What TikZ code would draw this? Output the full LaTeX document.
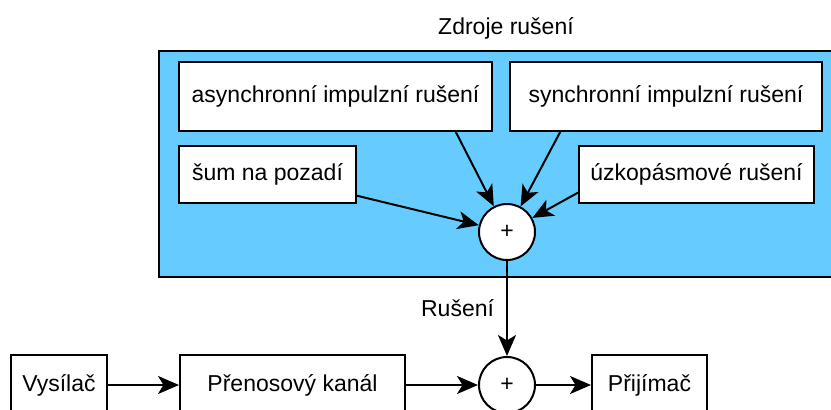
\documentclass[tikz,border=0pt]{standalone}
\usepackage{fontspec}
\setmainfont{Liberation Sans}
\usetikzlibrary{arrows.meta,calc}
\definecolor{zone}{HTML}{66CCFF}
\begin{document}
\begin{tikzpicture}[x=1pt,y=-1pt,
  every node/.style={font=\fontsize{23}{27}\selectfont},
  box/.style={draw=black,fill=white,line width=2pt,inner sep=0pt},
  sum/.style={draw=black,fill=white,circle,line width=2pt,minimum size=56pt,inner sep=0pt},
  arr/.style={line width=2pt,-{Stealth[length=21pt,width=18pt,inset=5.5pt]}},
  lbl/.style={inner sep=0pt}]
\path[use as bounding box,clip] (0,0) rectangle (831,410);
\fill[white] (0,0) rectangle (831,410);
% zone
\draw[fill=zone,line width=2pt] (159,51) rectangle (860,277);
\node[lbl] (title) at (506,28) {Zdroje rušení};
% sources
\node[box,minimum width=313pt,minimum height=69pt] (async) at (335.5,96.5) {asynchronní impulzní rušení};
\node[box,minimum width=312pt,minimum height=69pt] (sync) at (666,96.5) {synchronní impulzní rušení};
\node[box,minimum width=177pt,minimum height=57pt] (sum0) at (267.5,174.5) {šum na pozadí};
\node[box,minimum width=235pt,minimum height=57pt] (narrow) at (696.5,174.5) {úzkopásmové rušení};
\node[sum] (plus1) at (507,232) {+};
% chain
\node[box,minimum width=96pt,minimum height=60pt] (tx) at (59,385) {Vysílač};
\node[box,minimum width=225pt,minimum height=60pt] (ch) at (292.5,385) {Přenosový kanál};
\node[sum] (plus2) at (507,385) {+};
\node[box,minimum width=115pt,minimum height=60pt] (rx) at (649.5,385) {Přijímač};
% connectors
\draw[arr] ($(async.south west)!0.882!(async.south east)$) -- (plus1);
\draw[arr] ($(sync.south west)!0.163!(sync.south east)$) -- (plus1);
\draw[arr] ($(sum0.north east)!0.86!(sum0.south east)$) -- (plus1);
\draw[arr] ($(narrow.north west)!0.807!(narrow.south west)$) -- (plus1);
\draw[arr] (plus1) -- node[lbl,pos=0.5,left=12pt] (rlbl) {Rušení} (plus2);
\draw[arr] (tx) -- (ch);
\draw[arr] (ch) -- (plus2);
\draw[arr] (plus2) -- (rx);
\end{tikzpicture}
\end{document}
